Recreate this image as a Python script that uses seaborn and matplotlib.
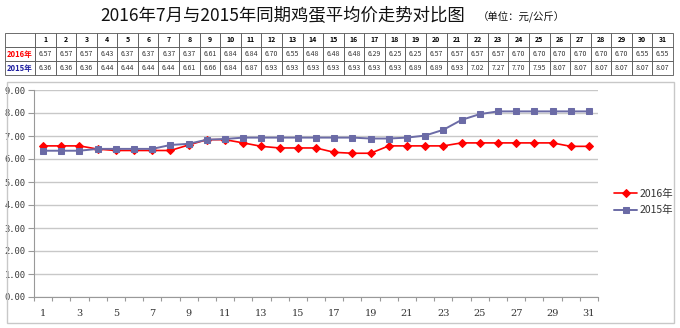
import matplotlib
matplotlib.use("Agg")
import matplotlib.pyplot as plt
from matplotlib.patches import Rectangle
import seaborn as sns
import pandas as pd

days = list(range(1, 32))
price_2016 = [6.57, 6.57, 6.57, 6.43, 6.37, 6.37, 6.37, 6.37, 6.61, 6.84,
              6.84, 6.70, 6.55, 6.48, 6.48, 6.48, 6.29, 6.25, 6.25, 6.57,
              6.57, 6.57, 6.57, 6.70, 6.70, 6.70, 6.70, 6.70, 6.70, 6.55, 6.55]
price_2015 = [6.36, 6.36, 6.36, 6.44, 6.44, 6.44, 6.44, 6.61, 6.66, 6.84,
              6.87, 6.93, 6.93, 6.93, 6.93, 6.93, 6.93, 6.93, 6.89, 6.89,
              6.93, 7.02, 7.27, 7.70, 7.95, 8.07, 8.07, 8.07, 8.07, 8.07, 8.07]
series_names = ["2016年", "2015年"]
title_main = "2016年7月与2015年同期鸡蛋平均价走势对比图"
title_unit = "（单位：元/公斤）"

sns.set_theme(style="white")
plt.rcParams["font.family"] = ["Noto Sans CJK SC", "DejaVu Sans"]

df = pd.DataFrame({
    "day": days * 2,
    "price": price_2016 + price_2015,
    "year": [series_names[0]] * len(days) + [series_names[1]] * len(days),
})

colors = {"2016年": "#FF0000", "2015年": "#6B6BA6"}
markers = {"2016年": "D", "2015年": "s"}
msize = {"2016年": 3.6, "2015年": 5.0}
lwidth = {"2016年": 1.2, "2015年": 1.4}

fig = plt.figure(figsize=(6.8, 3.28), dpi=100)

# chart frame
fig.patches.append(Rectangle((7 / 680, 1 - 323 / 328), 667 / 680, 241 / 328,
                             transform=fig.transFigure, fill=False,
                             edgecolor="#C8C8C8", linewidth=1.0))

# title
fig.text(0.147, 1 - 16 / 328, title_main, fontsize=12.5, ha="left", va="center",
         color="#111111")
fig.text(0.703, 1 - 17 / 328, title_unit, fontsize=7.5, ha="left", va="center",
         color="#111111")

# data table
tab_ax = fig.add_axes([5 / 680, 1 - 75 / 328, 668 / 680, 42 / 328])
tab_ax.axis("off")
cell_text = [[""] + [str(d) for d in days],
             [series_names[0]] + [f"{v:.2f}" for v in price_2016],
             [series_names[1]] + [f"{v:.2f}" for v in price_2015]]
first_w = 30 / 668
col_w = [first_w] + [(1 - first_w) / 31] * 31
tbl = tab_ax.table(cellText=cell_text, colWidths=col_w, bbox=[0, 0, 1, 1],
                   cellLoc="center")
tbl.auto_set_font_size(False)
for (r, c), cell in tbl.get_celld().items():
    cell.set_edgecolor("#555555")
    cell.set_linewidth(0.6)
    txt = cell.get_text()
    txt.set_fontsize(5)
    txt.set_color("#333333")
    if c > 0:
        cell.PAD = 0.02
    if r == 0:
        txt.set_fontweight("bold")
        txt.set_color("#000000")
    if c == 0 and r > 0:
        txt.set_fontweight("bold")
        txt.set_color("#FF0000" if r == 1 else "#1F1FA0")
        txt.set_fontsize(5.5)

# line chart
ax = fig.add_axes([34 / 680, 1 - 297 / 328, 564 / 680, 207 / 328])
for name in series_names:
    sub = df[df["year"] == name]
    sns.lineplot(data=sub, x="day", y="price", ax=ax, color=colors[name],
                 marker=markers[name], markersize=msize[name],
                 markeredgecolor=colors[name], linewidth=lwidth[name],
                 label=name)

ax.set_xlim(0.5, 31.5)
ax.set_ylim(0, 9)
ax.set_yticks(range(0, 10))
ax.set_yticklabels([f"{v:.2f}" for v in range(0, 10)],
                   family="DejaVu Sans Mono", fontsize=6.3, color="#333333")
ax.set_xticks([d + 0.5 for d in range(0, 32)])
ax.set_xticklabels([])
ax.set_xticks(days[::2], minor=True)
ax.set_xticklabels([str(d) for d in days[::2]], minor=True,
                   family="DejaVu Serif", fontsize=7, color="#333333")
ax.tick_params(axis="x", which="major", direction="out", length=3,
               width=0.8, color="#999999", bottom=True)
ax.tick_params(axis="x", which="minor", length=0, pad=9, bottom=True)
ax.tick_params(axis="y", direction="out", length=4, width=0.8,
               color="#999999", left=True, pad=2)
ax.yaxis.grid(True, color="#C8C8C8", linewidth=1.0)
ax.set_axisbelow(True)
for side in ["top", "right"]:
    ax.spines[side].set_visible(False)
for side in ["left", "bottom"]:
    ax.spines[side].set_color("#999999")
    ax.spines[side].set_linewidth(0.8)
ax.set_xlabel("")
ax.set_ylabel("")
ax.set_facecolor("none")

leg = ax.legend(loc="center left", bbox_to_anchor=(605 / 680, 1 - 202 / 328),
                bbox_transform=fig.transFigure, frameon=False, fontsize=7.5,
                handlelength=2.2, handletextpad=0.2, labelspacing=0.6)
for t in leg.get_texts():
    t.set_color("#333333")

fig.savefig("out.png", dpi=100)
